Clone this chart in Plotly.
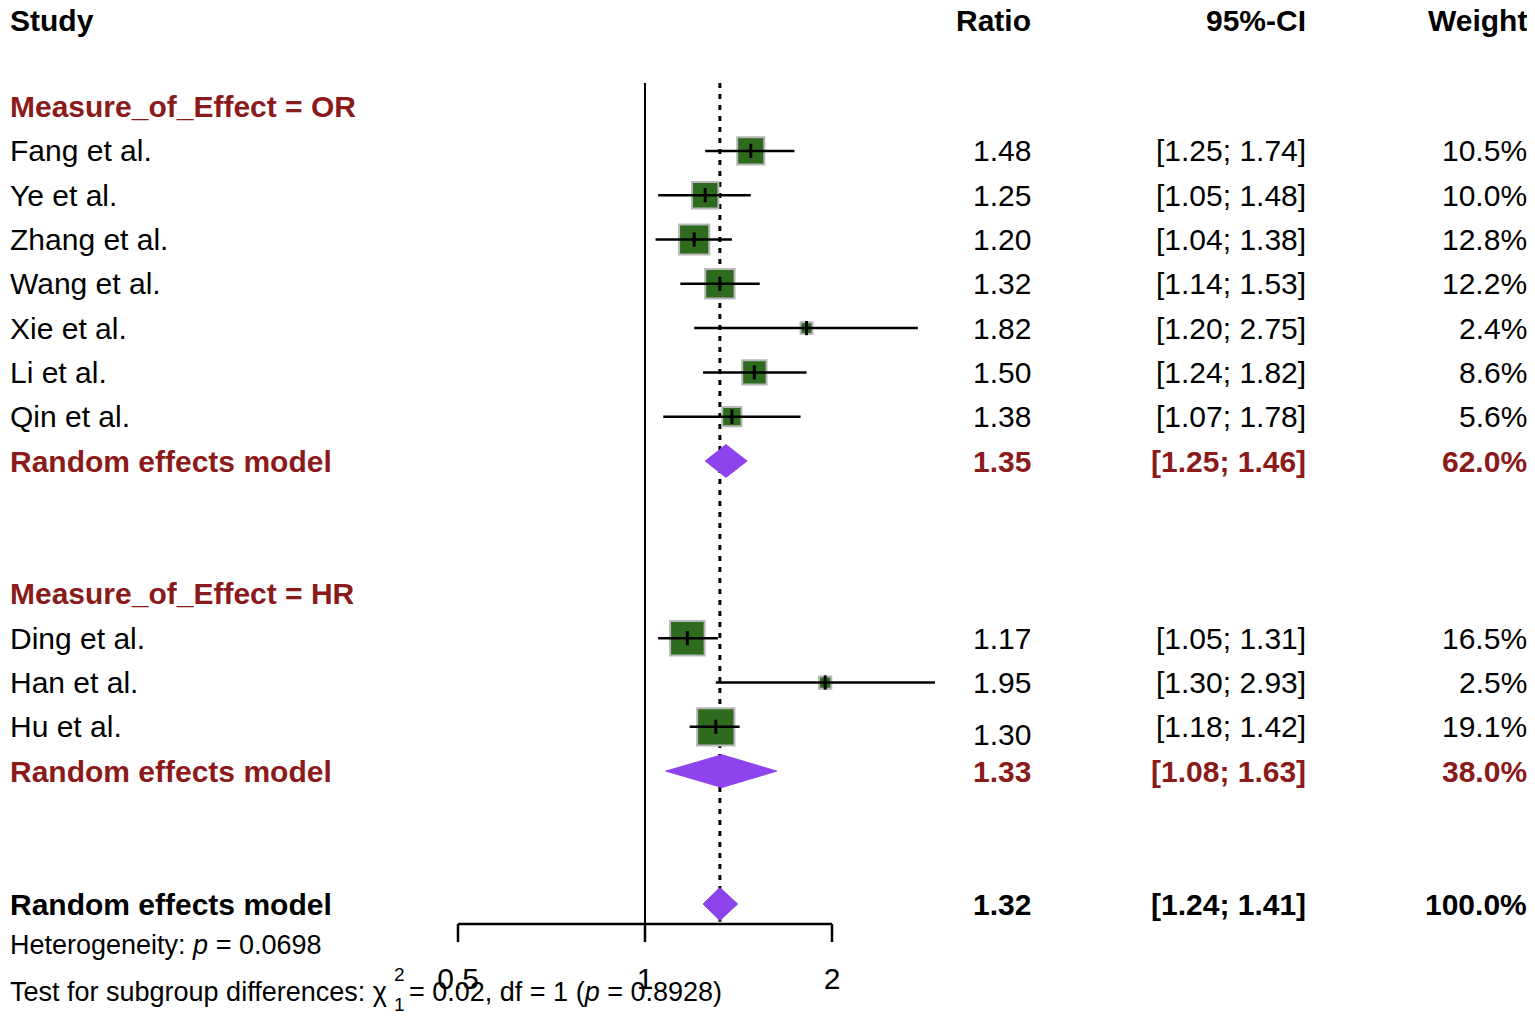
import numpy as np
import plotly.graph_objects as go

# study level data
studies_or = ["Fang et al.", "Ye et al.", "Zhang et al.", "Wang et al.",
              "Xie et al.", "Li et al.", "Qin et al."]
ratio_or = [1.48, 1.25, 1.20, 1.32, 1.82, 1.50, 1.38]
lower_or = [1.25, 1.05, 1.04, 1.14, 1.20, 1.24, 1.07]
upper_or = [1.74, 1.48, 1.38, 1.53, 2.75, 1.82, 1.78]
weight_or = [10.5, 10.0, 12.8, 12.2, 2.4, 8.6, 5.6]

studies_hr = ["Ding et al.", "Han et al.", "Hu et al."]
ratio_hr = [1.17, 1.95, 1.30]
lower_hr = [1.05, 1.30, 1.18]
upper_hr = [1.31, 2.93, 1.42]
weight_hr = [16.5, 2.5, 19.1]

# pooled estimates: OR subgroup, HR subgroup, overall
group_labels = ["Measure_of_Effect = OR", "Measure_of_Effect = HR"]
pooled_ratio = [1.35, 1.33, 1.32]
pooled_lower = [1.25, 1.08, 1.24]
pooled_upper = [1.46, 1.63, 1.41]
pooled_weight = [62.0, 38.0, 100.0]

heterogeneity_p = "0.0698"
subgroup_chi2 = "0.02"
subgroup_df = "1"
subgroup_p = "0.8928"

axis_ticks = [0.5, 1, 2]

FONT = "Liberation Sans, Arial, Helvetica, sans-serif"
DARKRED = "#8B1A1A"
SQUARE = "#2E6B1F"
DIAMOND = "#8E44EC"
FS = 30
FS_SMALL = 27

# page body has an 8px margin, so the figure is a bit smaller than the window
W, H = 1527, 1010

# --- row layout: header, blank, group label, studies, RE model, 2 blanks ...
groups = [
    (group_labels[0], studies_or, ratio_or, lower_or, upper_or, weight_or),
    (group_labels[1], studies_hr, ratio_hr, lower_hr, upper_hr, weight_hr),
]
row = 2
study_rows, label_rows, pooled_rows = [], [], []
all_studies, all_ratio, all_lower, all_upper, all_weight = [], [], [], [], []
for label, names, r, lo, hi, w in groups:
    label_rows.append(row)
    row += 1
    for i in range(len(names)):
        study_rows.append(row)
        row += 1
    all_studies += names
    all_ratio += r
    all_lower += lo
    all_upper += hi
    all_weight += w
    pooled_rows.append(row)
    row += 3
pooled_rows.append(row)  # overall model
overall_row = row
axis_row = overall_row + 0.45
tick_len = 0.41

fig = go.Figure()

top = 1.47
# null line and overall estimate line
fig.add_trace(go.Scatter(x=[1, 1], y=[top, axis_row + tick_len], mode="lines",
                         line=dict(color="black", width=2), hoverinfo="skip"))
fig.add_trace(go.Scatter(x=[pooled_ratio[2]] * 2, y=[top, axis_row - 0.05], mode="lines",
                         line=dict(color="black", width=3, dash="5px,6px"), hoverinfo="skip"))

# study squares, area ~ weight
fig.add_trace(go.Scatter(
    x=all_ratio, y=study_rows, mode="markers",
    marker=dict(symbol="square", color=SQUARE, opacity=1,
                size=[9.0 * np.sqrt(w) - 2 for w in all_weight],
                line=dict(color="#B8B8B8", width=2)),
    hoverinfo="skip"))

# confidence intervals
cx, cy = [], []
for lo, hi, y in zip(all_lower, all_upper, study_rows):
    cx += [lo, hi, None]
    cy += [y, y, None]
fig.add_trace(go.Scatter(x=cx, y=cy, mode="lines", line=dict(color="black", width=2.5),
                         hoverinfo="skip"))
tx, ty = [], []
for r, y in zip(all_ratio, study_rows):
    tx += [r, r, None]
    ty += [y - 0.16, y + 0.16, None]
fig.add_trace(go.Scatter(x=tx, y=ty, mode="lines", line=dict(color="black", width=3),
                         hoverinfo="skip"))

# diamonds
for r, lo, hi, y in zip(pooled_ratio, pooled_lower, pooled_upper, pooled_rows):
    fig.add_trace(go.Scatter(
        x=[lo, r, hi, r, lo], y=[y, y - 0.37, y, y + 0.37, y],
        mode="lines", fill="toself", fillcolor=DIAMOND,
        line=dict(color=DIAMOND, width=1), hoverinfo="skip"))

# x axis drawn by hand (only spans the tick range)
ax, ay = [axis_ticks[0], axis_ticks[-1], None], [axis_row, axis_row, None]
for t in axis_ticks:
    ax += [t, t, None]
    ay += [axis_row, axis_row + tick_len, None]
fig.add_trace(go.Scatter(x=ax, y=ay, mode="lines", line=dict(color="black", width=2.5),
                         hoverinfo="skip"))
fig.add_trace(go.Scatter(
    x=axis_ticks, y=[overall_row + 1.76] * len(axis_ticks), mode="text",
    text=[f"{t:g}" for t in axis_ticks], textposition="middle center",
    textfont=dict(family=FONT, size=FS, color="black"), hoverinfo="skip"))

# --- table text
ann = []


def txt(x, y, s, anchor="left", bold=False, color="black", size=FS):
    if bold:
        s = "<b>" + s + "</b>"
    ann.append(dict(x=x / W, y=y, xref="paper", yref="y", text=s, showarrow=False,
                    xanchor=anchor, yanchor="middle",
                    font=dict(family=FONT, size=size, color=color)))


LEFT, C_RATIO, C_CI, C_W = 0, 1025, 1300, 1521
txt(LEFT, 0.05, "Study", bold=True)
txt(C_RATIO, 0.05, "Ratio", "right", bold=True)
txt(C_CI, 0.05, "95%-CI", "right", bold=True)
txt(C_W, 0.05, "Weight", "right", bold=True)

for label, y in zip(group_labels, label_rows):
    txt(LEFT, y, label, bold=True, color=DARKRED)

for name, r, lo, hi, w, y in zip(all_studies, all_ratio, all_lower, all_upper,
                                  all_weight, study_rows):
    txt(LEFT, y, name)
    # the Hu et al. ratio sits a little low in the original
    txt(C_RATIO, y + (0.18 if name == "Hu et al." else 0), f"{r:.2f}", "right")
    txt(C_CI, y, f"[{lo:.2f}; {hi:.2f}]", "right")
    txt(C_W, y, f"{w:.1f}%", "right")

for i, y in enumerate(pooled_rows):
    col = DARKRED if i < 2 else "black"
    txt(LEFT, y, "Random effects model", bold=True, color=col)
    txt(C_RATIO, y, f"{pooled_ratio[i]:.2f}", "right", bold=True, color=col)
    txt(C_CI, y, f"[{pooled_lower[i]:.2f}; {pooled_upper[i]:.2f}]", "right", bold=True, color=col)
    txt(C_W, y, f"{pooled_weight[i]:.1f}%", "right", bold=True, color=col)

txt(LEFT, overall_row + 0.93, f"Heterogeneity: <i>p</i> = {heterogeneity_p}", size=FS_SMALL)
# chi-square with stacked super/subscript
txt(LEFT, overall_row + 1.99, "Test for subgroup differences: χ", size=FS_SMALL)
txt(391, overall_row + 1.60, "2", "center", size=19)
txt(391, overall_row + 2.26, subgroup_df, "center", size=19)
txt(399, overall_row + 1.99,
    f"= {subgroup_chi2}, df = {subgroup_df} (<i>p</i> = {subgroup_p})", size=FS_SMALL)

fig.update_layout(
    width=W, height=H,
    margin=dict(l=0, r=0, t=0, b=0),
    paper_bgcolor="white", plot_bgcolor="white",
    showlegend=False,
    xaxis=dict(type="log", range=[-1.0254, 1.4327], visible=False, domain=[0, 1]),
    yaxis=dict(range=[22.573, -0.2257], visible=False, domain=[0, 1]),
    annotations=ann,
)
fig.write_html("out.html")
